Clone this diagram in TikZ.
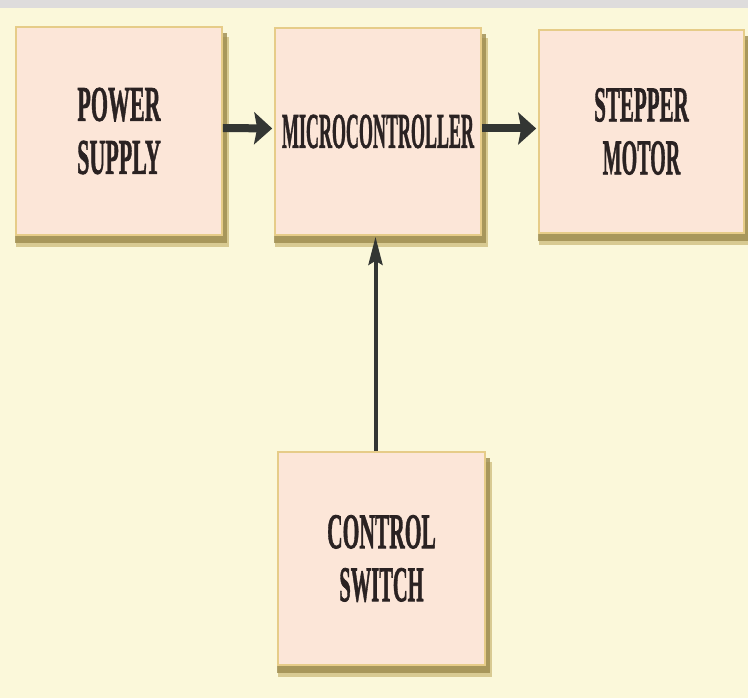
\documentclass[tikz,border=0pt]{standalone}
\usepackage{fontspec}
\usepackage{graphicx}
\setmainfont{Liberation Serif}
\newfontfamily\heavyfont{Liberation Serif Bold}[FakeBold=1.6]
\usetikzlibrary{arrows.meta,backgrounds}
\definecolor{bgcol}{HTML}{FBF8DA}
\definecolor{topband}{HTML}{DEDCDC}
\definecolor{boxfill}{HTML}{FCE6D8}
\definecolor{boxedge}{HTML}{E6CC88}
\definecolor{shadowA}{HTML}{D8CA92}
\definecolor{shadowB}{HTML}{9C8B4E}
\definecolor{txtcol}{HTML}{2A2222}
\definecolor{arrcol}{HTML}{333633}
\newcommand\cond[2]{\scalebox{#1}[1]{#2}}
\begin{document}
\begin{tikzpicture}[x=1pt,y=-1pt,
  box/.style={draw=boxedge, line width=1.6pt, fill=boxfill, inner sep=0pt,
    align=center, text=txtcol,
    font=\fontsize{50}{53}\selectfont\heavyfont},
  harrow/.style={draw=arrcol, line width=8pt,
    -{Stealth[length=18pt,width=32pt,inset=3pt]}, shorten >=2pt},
  varrow/.style={draw=arrcol, line width=4pt,
    -{Stealth[length=28pt,width=14pt,inset=4pt]}, shorten >=1pt}]
\useasboundingbox (0,0) rectangle (748,698);

\node[box, minimum width=206pt, minimum height=208pt] (ps) at (119,131)
  {\cond{0.44}{POWER}\\\cond{0.44}{SUPPLY}};
\node[box, minimum width=206pt, minimum height=207pt] (mc) at (378,131.5)
  {\cond{0.36}{MICROCONTROLLER}};
\node[box, minimum width=205pt, minimum height=203pt] (sm) at (641.5,131.5)
  {\cond{0.42}{STEPPER}\\\cond{0.40}{MOTOR}};
\node[box, minimum width=207pt, minimum height=213pt] (cs) at (381.5,558.5)
  {\cond{0.43}{CONTROL}\\\cond{0.41}{SWITCH}};

\begin{scope}[on background layer]
  \fill[bgcol] (0,0) rectangle (748,698);
  \fill[topband] (0,0) rectangle (748,8);
  \foreach \n in {ps,mc,sm,cs}{
    \fill[shadowA] ([xshift=1pt,yshift=-11pt]\n.north west) rectangle ([xshift=6pt,yshift=-11pt]\n.south east);
    \fill[shadowB, opacity=0.8] ([xshift=0pt,yshift=-7pt]\n.north west) rectangle ([xshift=4pt,yshift=-7pt]\n.south east);
  }
\end{scope}

\draw[harrow] ([yshift=3pt]ps.east) -- ([yshift=3pt]mc.west);
\draw[harrow] ([yshift=3pt]mc.east) -- ([yshift=3pt]sm.west);
\draw[varrow] ([xshift=-6pt]cs.north) -- ([xshift=-6pt]cs.north |- mc.south);
\end{tikzpicture}
\end{document}
